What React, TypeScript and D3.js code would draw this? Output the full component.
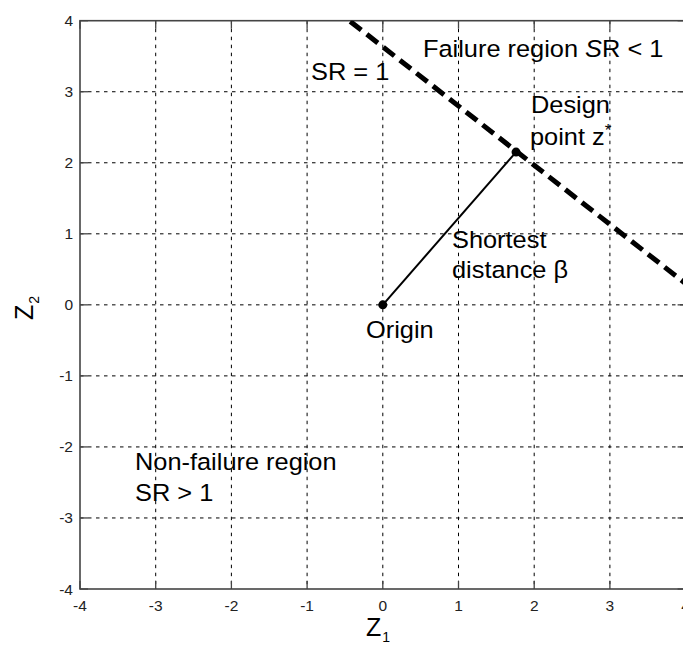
import React from "react";
import * as d3 from "d3";

const xTicks = [-4, -3, -2, -1, 0, 1, 2, 3, 4];
const yTicks = [-4, -3, -2, -1, 0, 1, 2, 3, 4];
const limitZ1 = [-0.43, 4.0];
const limitZ2 = [3.99, 0.3];
const originPt = [0, 0];
const designPt = [1.76, 2.15];

const W = 683;
const H = 648;
const L = 80;
const R = 80 + 8 * 75.7;
const T = 20.7;
const B = 589;

const FONT = "'Liberation Sans', Arial, sans-serif";

function Label({ x, y, children, size = 23.5, sx = 1.08 }: any) {
  return (
    <g transform={`translate(${x},${y}) scale(${sx},1)`}>
      <text x={0} y={0} fontSize={size} fontFamily={FONT} fill="#000">
        {children}
      </text>
    </g>
  );
}

export default function App() {
  const x = d3.scaleLinear().domain([-4, 4]).range([L, R]);
  const y = d3.scaleLinear().domain([-4, 4]).range([B, T]);
  const line = d3
    .line<[number, number]>()
    .x((d) => x(d[0]))
    .y((d) => y(d[1]));
  const limitPts: [number, number][] = limitZ1.map((v, i) => [v, limitZ2[i]]);
  const betaPts: [number, number][] = [
    [originPt[0], originPt[1]],
    [designPt[0], designPt[1]],
  ];
  const axisColor = "#444";
  return (
    <svg
      width={W}
      height={H}
      style={{ position: "absolute", left: 0, top: 0, background: "#fff" }}
    >
      <rect x={0} y={0} width={W} height={H} fill="#fff" />
      <defs>
        <clipPath id="plotClip">
          <rect x={L} y={T} width={R - L} height={B - T} />
        </clipPath>
      </defs>
      {/* grid */}
      <g stroke="#000" strokeWidth={1} strokeDasharray="3.5,4.5">
        {xTicks
          .filter((t) => t > -4 && t < 4)
          .map((t) => (
            <line key={"gx" + t} x1={x(t)} x2={x(t)} y1={T} y2={B} />
          ))}
        {yTicks
          .filter((t) => t > -4 && t < 4)
          .map((t) => (
            <line key={"gy" + t} x1={L} x2={R} y1={y(t)} y2={y(t)} />
          ))}
      </g>
      {/* tick marks */}
      <g stroke={axisColor} strokeWidth={1.3}>
        {xTicks.map((t) => (
          <g key={"tx" + t}>
            <line x1={x(t)} x2={x(t)} y1={B} y2={B - 8} />
            <line x1={x(t)} x2={x(t)} y1={T} y2={T + 8} />
          </g>
        ))}
        {yTicks.map((t) => (
          <g key={"ty" + t}>
            <line x1={L} x2={L + 8} y1={y(t)} y2={y(t)} />
            <line x1={R} x2={R - 8} y1={y(t)} y2={y(t)} />
          </g>
        ))}
      </g>
      {/* frame */}
      <rect
        x={L}
        y={T}
        width={R - L}
        height={B - T}
        fill="none"
        stroke={axisColor}
        strokeWidth={1.6}
      />
      {/* tick labels */}
      <g fontFamily={FONT} fontSize={15.5} fill="#222">
        {xTicks.map((t) => (
          <text key={"lx" + t} x={x(t)} y={611} textAnchor="middle">
            {t}
          </text>
        ))}
        {yTicks.map((t) => (
          <text
            key={"ly" + t}
            x={73}
            y={y(t) + 5.5}
            textAnchor="end"
          >
            {t}
          </text>
        ))}
      </g>
      {/* axis labels */}
      <text x={366} y={636} fontFamily={FONT} fontSize={25} fill="#000">
        Z<tspan fontSize={14} dy={6} dx={1}>1</tspan>
      </text>
      <g transform="translate(33,320) rotate(-90)">
        <text x={0} y={0} fontFamily={FONT} fontSize={25} fill="#000">
          Z<tspan fontSize={14} dy={6} dx={1}>2</tspan>
        </text>
      </g>
      {/* limit state line */}
      <g clipPath="url(#plotClip)">
        <path
          d={line(limitPts) || ""}
          fill="none"
          stroke="#000"
          strokeWidth={5}
          strokeDasharray="14,7"
        />
      </g>
      {/* beta line */}
      <path d={line(betaPts) || ""} fill="none" stroke="#000" strokeWidth={2} />
      <circle cx={x(originPt[0])} cy={y(originPt[1])} r={4.5} fill="#000" />
      <circle cx={x(designPt[0])} cy={y(designPt[1])} r={4.5} fill="#000" />
      {/* annotations */}
      <Label x={423} y={57}>
        Failure region <tspan fontStyle="italic">S</tspan>R &lt; 1
      </Label>
      <Label x={311} y={80}>SR = 1</Label>
      <Label x={531} y={113}>Design</Label>
      <Label x={530} y={145}>
        point z<tspan fontSize={16} dy={-9}>*</tspan>
      </Label>
      <Label x={452} y={248}>Shortest</Label>
      <Label x={452} y={278}>distance β</Label>
      <Label x={366} y={338}>Origin</Label>
      <Label x={135} y={470}>Non-failure region</Label>
      <Label x={135} y={501}>SR &gt; 1</Label>
    </svg>
  );
}
